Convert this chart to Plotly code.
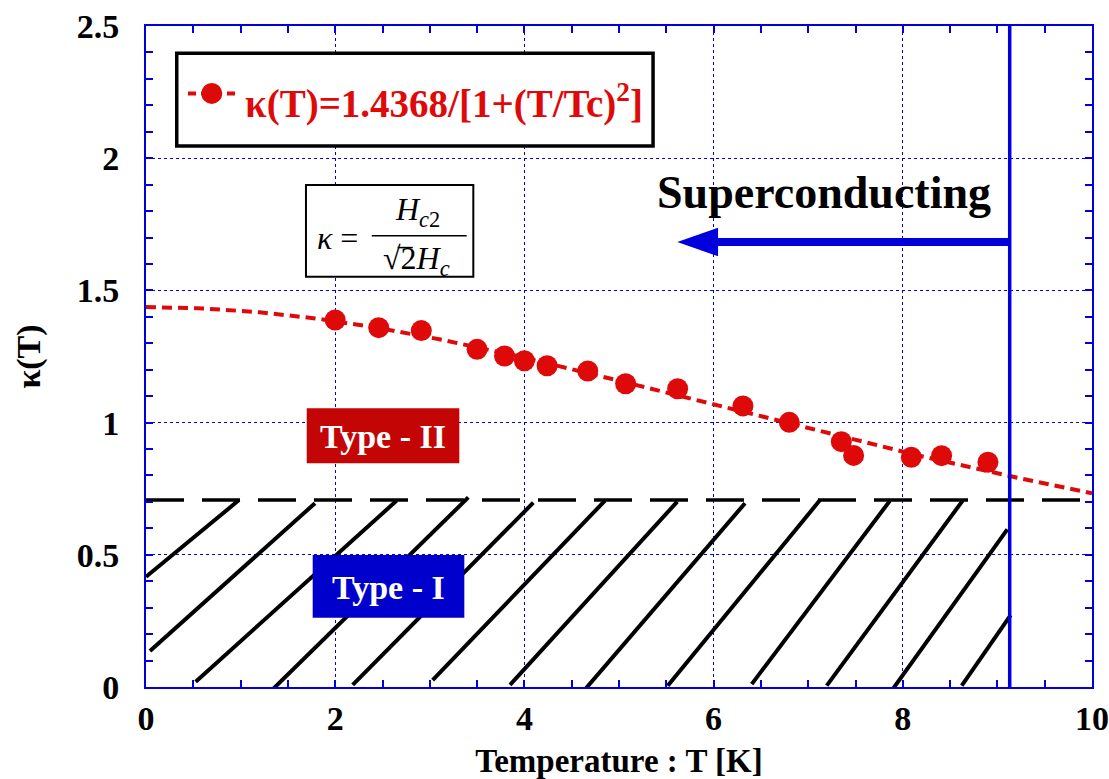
import numpy as np
import plotly.graph_objects as go

# Measured Ginzburg-Landau parameter kappa(T)
T_meas = [2.00, 2.46, 2.91, 3.50, 3.79, 4.00, 4.24, 4.67, 5.07, 5.62,
          6.31, 6.80, 7.35, 7.48, 8.09, 8.41, 8.90]
kappa_meas = [1.388, 1.359, 1.348, 1.277, 1.252, 1.234, 1.215, 1.195, 1.147, 1.128,
              1.063, 1.001, 0.928, 0.876, 0.869, 0.875, 0.850]

# Empirical fit  kappa(T) = kappa0 / [1 + (T/Tc)^2]
KAPPA0 = 1.4368
TC = 10.2
T_fit = np.linspace(0, 10, 201)
kappa_fit = KAPPA0 / (1 + (T_fit / TC) ** 2)

# Type-I / Type-II boundary and superconducting transition
KAPPA_BOUNDARY = 1 / np.sqrt(2)
T_TRANSITION = 9.13

# Hatching of the Type-I region (segment end points)
hatch_x0 = [0.000, 0.042, 0.525, 1.339, 2.185, 3.030, 3.848, 4.651, 5.515, 6.403, 7.196, 7.900, 8.623]
hatch_y0 = [0.417, 0.136, 0.020, -0.009, 0.008, 0.026, 0.008, -0.005, 0.005, 0.011, 0.005, -0.005, 0.005]
hatch_x1 = [0.983, 1.786, 2.650, 3.407, 4.094, 4.852, 5.616, 6.332, 7.125, 7.865, 8.633, 9.105, 9.140]
hatch_y1 = [0.707, 0.695, 0.705, 0.717, 0.697, 0.705, 0.701, 0.695, 0.707, 0.705, 0.705, 0.596, 0.272]

x_ticks = [0, 2, 4, 6, 8, 10]
y_ticks = [0, 0.5, 1, 1.5, 2, 2.5]

SERIF = "Liberation Serif, Times New Roman, serif"
RED = "#DE0A0A"
BLUE = "#0000DD"
DARK_RED = "#C30505"
TYPE1_BLUE = "#0000CC"

fig = go.Figure()

hx, hy = [], []
for a, b, c, d in zip(hatch_x0, hatch_y0, hatch_x1, hatch_y1):
    hx += [a, c, None]
    hy += [b, d, None]
fig.add_trace(go.Scatter(x=hx, y=hy, mode="lines",
                         line=dict(color="black", width=4), hoverinfo="skip"))

fig.add_trace(go.Scatter(x=[0, 10], y=[KAPPA_BOUNDARY, KAPPA_BOUNDARY], mode="lines",
                         line=dict(color="black", width=3.5, dash="38px,18px"),
                         hoverinfo="skip"))

fig.add_trace(go.Scatter(x=T_fit, y=kappa_fit, mode="lines",
                         line=dict(color=RED, width=4, dash="10px,6px")))

fig.add_trace(go.Scatter(x=T_meas, y=kappa_meas, mode="markers",
                         marker=dict(size=21, color=RED)))

axis_common = dict(
    showline=True, linecolor=BLUE, linewidth=2, mirror="ticks",
    ticks="inside", ticklen=7, tickwidth=1.5, tickcolor=BLUE,
    showgrid=True, gridcolor=BLUE, gridwidth=1, griddash="dot",
    zeroline=False, automargin=False,
    tickfont=dict(size=34, family=SERIF, weight="bold", color="black"),
)

fig.update_layout(
    width=1109, height=779,
    margin=dict(l=146, r=17, t=26, b=92),
    paper_bgcolor="white", plot_bgcolor="white",
    showlegend=False,
    font=dict(family=SERIF, color="black"),
    xaxis=dict(
        range=[0, 10], tickvals=x_ticks, ticklabelstandoff=0,
        minor=dict(dtick=0.5, ticks="inside", ticklen=7, tickwidth=1.5,
                   tickcolor=BLUE, showgrid=False),
        title=dict(text="<b>Temperature : T [K]</b>", standoff=16,
                   font=dict(size=33, family=SERIF, color="black")),
        **axis_common,
    ),
    yaxis=dict(
        range=[0, 2.5], tickvals=y_ticks, ticklabelstandoff=18,
        minor=dict(dtick=0.1, ticks="inside", ticklen=7, tickwidth=1.5,
                   tickcolor=BLUE, showgrid=False),
        title=dict(text="<b>κ(T)</b>", standoff=26,
                   font=dict(size=34, family=SERIF, color="black")),
        **axis_common,
    ),
)

shapes = []
annotations = []

# Transition line and "Superconducting" arrow
shapes.append(dict(type="line", xref="x", yref="y", x0=T_TRANSITION, x1=T_TRANSITION,
                   y0=0, y1=2.5, line=dict(color=BLUE, width=3.5), layer="above"))
ARROW_Y = 1.683
ARROW_TIP = 5.616
ARROW_BASE = 6.047
ARROW_HALF = 0.054
shapes.append(dict(type="line", xref="x", yref="y", x0=T_TRANSITION, x1=ARROW_BASE,
                   y0=ARROW_Y, y1=ARROW_Y, line=dict(color=BLUE, width=8), layer="above"))
shapes.append(dict(type="path", xref="x", yref="y",
                   path=f"M {ARROW_TIP},{ARROW_Y} L {ARROW_BASE},{ARROW_Y + ARROW_HALF} "
                        f"L {ARROW_BASE},{ARROW_Y - ARROW_HALF} Z",
                   fillcolor=BLUE, line=dict(color=BLUE, width=0), layer="above"))
annotations.append(dict(x=7.162, y=1.872, xref="x", yref="y", showarrow=False,
                        text="<b>Superconducting</b>",
                        font=dict(size=46, family=SERIF, color="black")))

# Type-II / Type-I labels
shapes.append(dict(type="rect", xref="x", yref="y", x0=1.699, x1=3.312, y0=0.846, y1=1.054,
                   fillcolor=DARK_RED, line=dict(width=0), layer="above"))
annotations.append(dict(x=2.505, y=0.949, xref="x", yref="y", showarrow=False,
                        text="<b>Type - II</b>",
                        font=dict(size=34, family=SERIF, color="white")))
shapes.append(dict(type="rect", xref="x", yref="y", x0=1.762, x1=3.365, y0=0.262, y1=0.499,
                   fillcolor=TYPE1_BLUE, line=dict(width=0), layer="above"))
annotations.append(dict(x=2.563, y=0.378, xref="x", yref="y", showarrow=False,
                        text="<b>Type - I</b>",
                        font=dict(size=34, family=SERIF, color="white")))

# Legend box
shapes.append(dict(type="rect", xref="paper", yref="paper", x0=0.0325, x1=0.536,
                   y0=0.8185, y1=0.9587, fillcolor="white",
                   line=dict(color="black", width=3.5), layer="above"))
shapes.append(dict(type="line", xref="paper", yref="paper", x0=0.0444, x1=0.0962,
                   y0=0.898, y1=0.898, line=dict(color=RED, width=4, dash="8px,5px"),
                   layer="above"))
shapes.append(dict(type="circle", xref="paper", yref="paper", xsizemode="pixel",
                   ysizemode="pixel", xanchor=0.0695, yanchor=0.898,
                   x0=-10.5, x1=10.5, y0=-10.5, y1=10.5,
                   fillcolor=RED, line=dict(width=0), layer="above"))
annotations.append(dict(x=0.1025, y=0.886, xref="paper", yref="paper", showarrow=False,
                        xanchor="left", yanchor="middle",
                        text="<b>κ(T)=1.4368/[1+(T/Tc)<sup>2</sup>]</b>",
                        font=dict(size=39, family=SERIF, color=RED)))

# Definition of kappa
shapes.append(dict(type="rect", xref="x", yref="y", x0=1.691, x1=3.460, y0=1.552, y1=1.899,
                   fillcolor="white", line=dict(color="black", width=2), layer="above"))
annotations.append(dict(x=2.024, y=1.698, xref="x", yref="y", showarrow=False,
                        text="<i>κ</i> =", font=dict(size=32, family=SERIF, color="black")))
shapes.append(dict(type="line", xref="x", yref="y", x0=2.386, x1=3.39, y0=1.707, y1=1.707,
                   line=dict(color="black", width=1.5), layer="above"))
annotations.append(dict(x=2.87, y=1.715, xref="x", yref="y", showarrow=False,
                        yanchor="bottom",
                        text="<i>H</i><sub><i>c</i>2</sub>",
                        font=dict(size=32, family=SERIF, color="black")))
annotations.append(dict(x=2.86, y=1.700, xref="x", yref="y", showarrow=False,
                        yanchor="top",
                        text="√2<i>H</i><sub><i>c</i></sub>",
                        font=dict(size=32, family=SERIF, color="black")))
# overbar of the square root
shapes.append(dict(type="line", xref="x", yref="y", x0=2.66, x1=2.82, y0=1.662, y1=1.662,
                   line=dict(color="black", width=1.5), layer="above"))

fig.update_layout(shapes=shapes, annotations=annotations)

fig.write_html("out.html")
